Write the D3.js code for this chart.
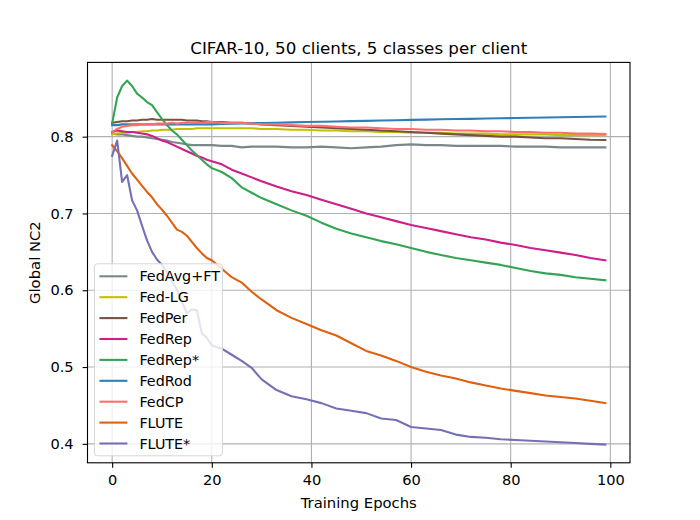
<!DOCTYPE html>
<html>
<head>
<meta charset="utf-8">
<script src="https://d3js.org/d3.v7.min.js"></script>
<style>
  body { margin: 0; background: #fff; }
  text { font-family: "DejaVu Sans", sans-serif; }
</style>
</head>
<body>
<div id="chart-area"></div>
<script>
// data
const epochs = [0,1,2,3,4,5,6,7,8,9,10,11,12,13,14,15,16,17,18,19,20,
  22,24,26,28,30,33,36,39,42,45,48,51,54,57,60,63,66,69,72,75,78,81,84,87,90,93,96,99];

const fedAvgFT = [0.804,0.803,0.803,0.802,0.801,0.800,0.800,0.799,0.798,0.797,0.796,0.795,0.793,0.792,0.791,0.790,0.789,0.789,0.789,0.789,0.789,
  0.788,0.788,0.786,0.787,0.787,0.787,0.786,0.786,0.787,0.786,0.785,0.786,0.787,0.789,0.790,0.789,0.789,0.788,0.788,0.788,0.788,0.787,0.787,0.787,0.786,0.786,0.786,0.786];
const fedLG = [0.803,0.804,0.805,0.805,0.806,0.806,0.807,0.807,0.808,0.808,0.809,0.809,0.809,0.810,0.810,0.810,0.810,0.811,0.811,0.811,0.811,
  0.811,0.811,0.811,0.811,0.810,0.810,0.809,0.809,0.808,0.808,0.807,0.807,0.806,0.806,0.805,0.805,0.805,0.804,0.804,0.804,0.803,0.803,0.803,0.803,0.802,0.802,0.802,0.802];
const fedPer = [0.818,0.819,0.820,0.820,0.821,0.821,0.822,0.822,0.823,0.822,0.822,0.822,0.822,0.822,0.822,0.821,0.821,0.821,0.820,0.820,0.819,
  0.819,0.818,0.818,0.817,0.816,0.815,0.814,0.813,0.812,0.811,0.810,0.809,0.808,0.807,0.806,0.805,0.804,0.803,0.802,0.801,0.800,0.800,0.799,0.798,0.798,0.797,0.796,0.7957];
const fedRep = [0.806,0.808,0.807,0.806,0.806,0.805,0.804,0.803,0.801,0.798,0.795,0.793,0.790,0.787,0.784,0.781,0.778,0.775,0.773,0.770,0.768,
  0.764,0.757,0.752,0.747,0.742,0.735,0.729,0.724,0.718,0.712,0.706,0.700,0.695,0.690,0.685,0.681,0.677,0.673,0.669,0.666,0.662,0.659,0.655,0.652,0.649,0.646,0.642,0.639];
const fedRepStar = [0.817,0.851,0.866,0.873,0.866,0.856,0.851,0.845,0.841,0.832,0.823,0.815,0.808,0.803,0.796,0.789,0.782,0.776,0.770,0.764,0.759,
  0.754,0.746,0.734,0.727,0.720,0.712,0.704,0.697,0.688,0.680,0.674,0.669,0.664,0.660,0.655,0.650,0.646,0.642,0.639,0.636,0.633,0.629,0.625,0.622,0.620,0.617,0.615,0.613];
const fedRod = [0.815,0.815,0.816,0.816,0.816,0.816,0.816,0.816,0.816,0.816,0.816,0.816,0.816,0.816,0.816,0.816,0.816,0.816,0.816,0.816,0.816,
  0.8165,0.817,0.8172,0.8175,0.8178,0.8182,0.8186,0.819,0.8194,0.8198,0.8202,0.8206,0.821,0.8214,0.8218,0.8222,0.8226,0.8229,0.8232,0.8236,0.824,0.8243,0.8247,0.825,0.8253,0.8256,0.8259,0.8262];
const fedCP = [0.806,0.810,0.813,0.814,0.815,0.815,0.816,0.816,0.816,0.817,0.817,0.817,0.818,0.817,0.818,0.818,0.818,0.819,0.818,0.819,0.819,
  0.818,0.818,0.818,0.817,0.816,0.816,0.815,0.814,0.814,0.813,0.812,0.812,0.811,0.810,0.810,0.809,0.809,0.808,0.808,0.807,0.807,0.806,0.806,0.805,0.805,0.804,0.804,0.8035];
const flute = [0.789,0.781,0.772,0.762,0.752,0.744,0.736,0.728,0.721,0.712,0.705,0.697,0.688,0.679,0.676,0.671,0.663,0.655,0.648,0.642,0.639,
  0.628,0.617,0.610,0.598,0.588,0.574,0.564,0.556,0.548,0.541,0.531,0.521,0.515,0.508,0.500,0.494,0.489,0.485,0.480,0.476,0.472,0.469,0.466,0.463,0.461,0.459,0.456,0.453];
const fluteStar = [0.775,0.795,0.741,0.750,0.717,0.704,0.684,0.665,0.650,0.640,0.633,0.624,0.612,0.601,0.585,0.570,0.575,0.574,0.544,0.538,0.528,
  0.524,0.516,0.508,0.499,0.484,0.470,0.462,0.458,0.453,0.446,0.443,0.440,0.433,0.431,0.422,0.420,0.418,0.412,0.409,0.408,0.406,0.405,0.404,0.403,0.402,0.401,0.400,0.399];

const methods = ["FedAvg+FT","Fed-LG","FedPer","FedRep","FedRep*","FedRod","FedCP","FLUTE","FLUTE*"];
const seriesValues = [fedAvgFT, fedLG, fedPer, fedRep, fedRepStar, fedRod, fedCP, flute, fluteStar];
const colors = ["#7a8888","#c2c000","#765341","#cc1f8a","#33a456","#2f7fb8","#ff6e6e","#e0600f","#7570b3"];
const xTicks = [0,20,40,60,80,100];
const yTicks = [0.4,0.5,0.6,0.7,0.8];

// margins like a default matplotlib axes
const MARGIN = { LEFT: 87.5, RIGHT: 70, TOP: 62.4, BOTTOM: 57.2 };
const WIDTH = 700 - MARGIN.LEFT - MARGIN.RIGHT;
const HEIGHT = 520 - MARGIN.TOP - MARGIN.BOTTOM;

const svg = d3.select("#chart-area").append("svg")
  .attr("width", 700)
  .attr("height", 520);

const g = svg.append("g")
  .attr("transform", `translate(${MARGIN.LEFT}, ${MARGIN.TOP})`);

// scales with 5% padding
const xMin = d3.min(epochs), xMax = d3.max(epochs);
const xPad = (xMax - xMin) * 0.05;
const x = d3.scaleLinear()
  .domain([xMin - xPad, xMax + xPad])
  .range([0, WIDTH]);

const allVals = seriesValues.flat();
const yMin = d3.min(allVals), yMax = d3.max(allVals);
const yPad = (yMax - yMin) * 0.05;
const y = d3.scaleLinear()
  .domain([yMin - yPad, yMax + yPad])
  .range([HEIGHT, 0]);

// grid
g.append("g").selectAll("line").data(xTicks).enter().append("line")
  .attr("x1", d => x(d)).attr("x2", d => x(d))
  .attr("y1", 0).attr("y2", HEIGHT)
  .attr("stroke", "#b0b0b0").attr("stroke-width", 1.1);
g.append("g").selectAll("line").data(yTicks).enter().append("line")
  .attr("x1", 0).attr("x2", WIDTH)
  .attr("y1", d => y(d)).attr("y2", d => y(d))
  .attr("stroke", "#b0b0b0").attr("stroke-width", 1.1);

// lines
const line = d3.line()
  .x((d, i) => x(epochs[i]))
  .y(d => y(d));

g.append("g").selectAll("path").data(seriesValues).enter().append("path")
  .attr("d", d => line(d))
  .attr("fill", "none")
  .attr("stroke", (d, i) => colors[i])
  .attr("stroke-width", 2.1)
  .attr("stroke-linejoin", "round")
  .attr("stroke-linecap", "square");

// axes
const xAxisCall = d3.axisBottom(x).tickValues(xTicks).tickSize(4.9).tickPadding(7).tickFormat(d3.format("d"));
const xAxis = g.append("g")
  .attr("transform", `translate(0, ${HEIGHT})`)
  .call(xAxisCall);

const yAxisCall = d3.axisLeft(y).tickValues(yTicks).tickSize(4.9).tickPadding(9).tickFormat(d3.format(".1f"));
const yAxis = g.append("g")
  .call(yAxisCall);

[xAxis, yAxis].forEach(a => {
  a.select(".domain").remove();
  a.selectAll(".tick line").attr("stroke", "#000").attr("stroke-width", 1.1);
  a.selectAll(".tick text").attr("font-size", "14.6px").attr("fill", "#000")
    .attr("font-family", "DejaVu Sans, sans-serif");
});

// frame
g.append("rect")
  .attr("width", WIDTH).attr("height", HEIGHT)
  .attr("fill", "none").attr("stroke", "#000").attr("stroke-width", 1.1);

// legend
const legendRowH = 20.9;
const legendW = 128, legendH = 192;
const legend = g.append("g")
  .attr("transform", `translate(6.9, ${HEIGHT - 7 - legendH})`);
legend.append("rect")
  .attr("width", legendW).attr("height", legendH)
  .attr("rx", 3).attr("ry", 3)
  .attr("fill", "#fff").attr("fill-opacity", 0.8)
  .attr("stroke", "#d6d6d6").attr("stroke-width", 1);
const rows = legend.selectAll(".row").data(methods).enter().append("g")
  .attr("class", "row")
  .attr("transform", (d, i) => `translate(0, ${12.5 + i * legendRowH})`);
rows.append("line")
  .attr("x1", 5).attr("x2", 33)
  .attr("stroke", (d, i) => colors[i]).attr("stroke-width", 2.1);
rows.append("text")
  .attr("x", 45).attr("y", 0).attr("dy", "0.35em")
  .attr("font-size", "14.3px").attr("fill", "#000")
  .text(d => d);

// labels
svg.append("text")
  .attr("x", MARGIN.LEFT + WIDTH / 2).attr("y", 54)
  .attr("text-anchor", "middle").attr("font-size", "16.7px")
  .text("CIFAR-10, 50 clients, 5 classes per client");

svg.append("text")
  .attr("x", MARGIN.LEFT + WIDTH / 2).attr("y", 508)
  .attr("text-anchor", "middle").attr("font-size", "14.8px")
  .text("Training Epochs");

svg.append("text")
  .attr("transform", `translate(40, ${MARGIN.TOP + HEIGHT / 2}) rotate(-90)`)
  .attr("text-anchor", "middle").attr("font-size", "14.8px")
  .text("Global NC2");
</script>
</body>
</html>
